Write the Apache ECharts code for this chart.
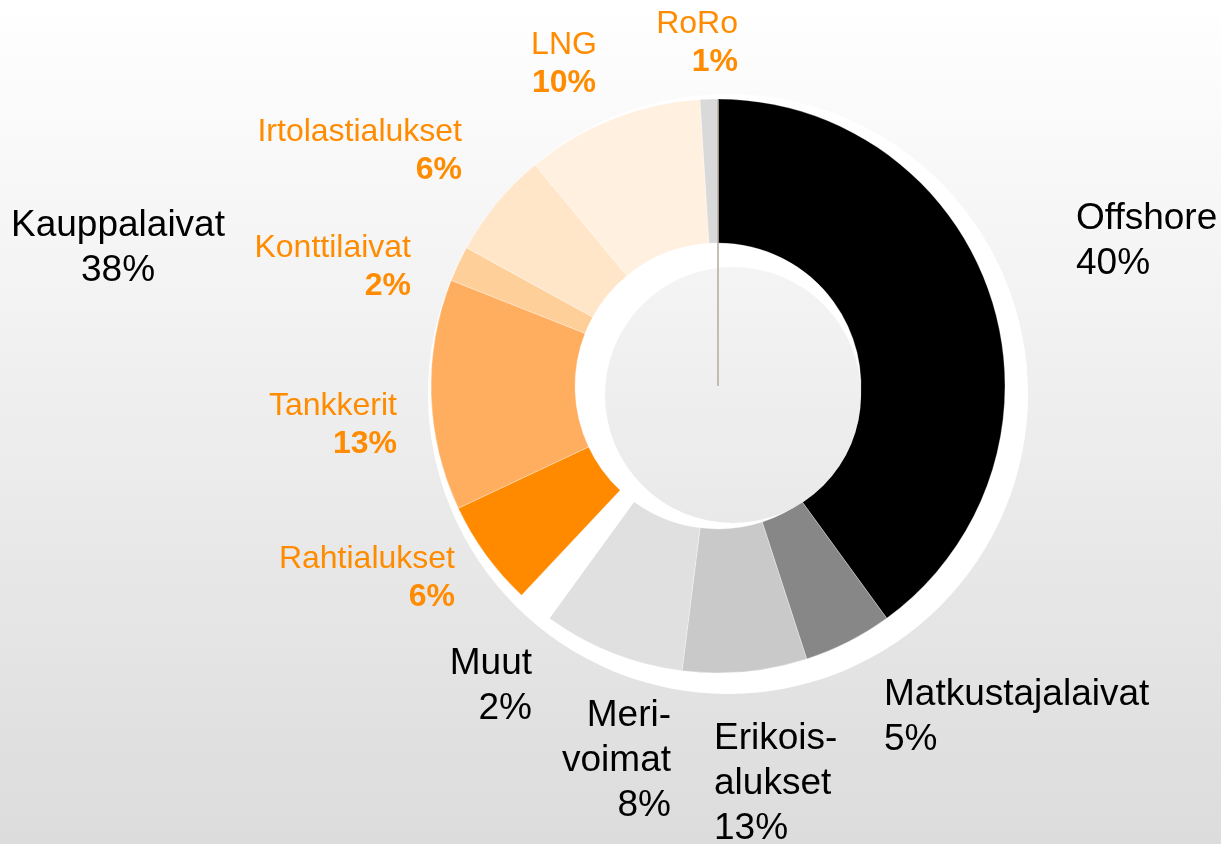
<!DOCTYPE html>
<html>
<head>
<meta charset="utf-8">
<script src="https://cdn.jsdelivr.net/npm/echarts@6/dist/echarts.min.js"></script>
<style>
  html, body { margin: 0; padding: 0; }
  #chart { width: 1221px; height: 844px; }
</style>
</head>
<body>
<div id="chart"></div>
<script>
// muut alukset (harmaat)
const otherNames = ['Offshore', 'Matkustajalaivat', 'Erikois-\nalukset', 'Meri-\nvoimat', 'Muut'];
const otherShares = [40, 5, 7, 8, 2];
const otherPct = ['40%', '5%', '13%', '8%', '2%'];
const otherColors = ['#000000', '#878787', '#c9c9c9', '#e0e0e0', '#ffffff'];

// kauppalaivat (oranssit)
const cargoNames = ['Rahtialukset', 'Tankkerit', 'Konttilaivat', 'Irtolastialukset', 'LNG', 'RoRo'];
const cargoShares = [6, 13, 2, 6, 10, 1];
const cargoPct = ['6%', '13%', '2%', '6%', '10%', '1%'];
const cargoColors = ['#ff8a00', '#ffae5f', '#ffcf9a', '#ffe6c9', '#fff0e0', '#d9d9d9'];

const groupName = 'Kauppalaivat';
const groupPct = '38%';

// label placement (x, y, align) per slice
const labelPos = [
  [1076, 241, 'left'], [884, 717, 'left'], [714, 784, 'left'], [671, 761, 'right'], [532, 686, 'right'],
  [455, 578, 'right'], [397, 425, 'right'], [411, 267, 'right'], [462, 151, 'right'], [564, 64, 'center'], [738, 43, 'right']
];

const FONT = '"Liberation Sans", Arial, sans-serif';
const CX = 718, CY = 386;

let names = otherNames.concat(cargoNames);
let shares = otherShares.concat(cargoShares);
let pcts = otherPct.concat(cargoPct);
let colors = otherColors.concat(cargoColors);

let data = names.map(function (n, i) {
  let cargo = i >= otherNames.length;
  return {
    name: n,
    value: shares[i],
    itemStyle: { color: colors[i] },
    label: {
      align: labelPos[i][2],
      rich: cargo ? {
        n: { fontSize: 32, lineHeight: 38, color: '#ff8c00', fontFamily: FONT, align: labelPos[i][2] },
        p: { fontSize: 32, lineHeight: 38, color: '#ff8c00', fontFamily: FONT, fontWeight: 'bold', align: labelPos[i][2] }
      } : {
        n: { fontSize: 37, lineHeight: 45, color: '#000', fontFamily: FONT, align: labelPos[i][2] },
        p: { fontSize: 37, lineHeight: 45, color: '#000', fontFamily: FONT, align: labelPos[i][2] }
      }
    }
  };
});

let cargoTotal = cargoShares.reduce(function (a, b) { return a + b; }, 0);
let otherTotal = otherShares.reduce(function (a, b) { return a + b; }, 0);

let chart = echarts.init(document.getElementById('chart'));
let option = {
  animation: false,
  backgroundColor: {
    type: 'linear', x: 0, y: 0, x2: 0, y2: 1,
    colorStops: [{ offset: 0, color: '#ffffff' }, { offset: 1, color: '#dcdcdc' }]
  },
  graphic: {
    elements: [
      { type: 'circle', z: 0, silent: true, shape: { cx: 728, cy: 394, r: 300 }, style: { fill: '#ffffff' } },
      {
        type: 'circle', z: 10, silent: true, shape: { cx: 733, cy: 395, r: 128 },
        style: {
          fill: {
            type: 'linear', x: 0, y: 0, x2: 0, y2: 1,
            colorStops: [{ offset: 0, color: '#f4f4f4' }, { offset: 1, color: '#e9e9e9' }]
          }
        }
      },
      { type: 'line', z: 11, silent: true, shape: { x1: CX, y1: 100, x2: CX, y2: CY }, style: { stroke: '#b5a89c', lineWidth: 1.5 } }
    ]
  },
  series: [
    {
      type: 'pie',
      center: [CX, CY],
      radius: [143, 287],
      startAngle: 90,
      clockwise: true,
      avoidLabelOverlap: false,
      emphasis: { disabled: true },
      itemStyle: { borderColor: 'rgba(255,255,255,0.6)', borderWidth: 0.5 },
      label: {
        show: true,
        position: 'outside',
        formatter: function (p) {
          let lines = p.name.split('\n').map(function (l) { return '{n|' + l + '}'; });
          return lines.join('\n') + '\n{p|' + pcts[p.dataIndex] + '}';
        }
      },
      labelLine: { show: false },
      labelLayout: function (p) {
        let pos = labelPos[p.dataIndex];
        return { x: pos[0], y: pos[1], align: pos[2], verticalAlign: 'middle' };
      },
      data: data
    },
    {
      // ryhmän otsikko
      type: 'pie',
      center: [CX, CY],
      radius: [143, 287],
      startAngle: 90,
      silent: true,
      z: 1,
      avoidLabelOverlap: false,
      itemStyle: { color: 'transparent' },
      label: {
        show: true,
        formatter: function (p) { return '{n|' + p.name + '}\n{n|' + groupPct + '}'; },
        rich: { n: { fontSize: 37, lineHeight: 45, color: '#000', fontFamily: FONT, align: 'center' } }
      },
      labelLine: { show: false },
      labelLayout: function () { return { x: 118, y: 248, align: 'center', verticalAlign: 'middle' }; },
      data: [
        { name: '', value: otherTotal, label: { show: false } },
        { name: groupName, value: cargoTotal }
      ]
    }
  ]
};
chart.setOption(option);
</script>
</body>
</html>
